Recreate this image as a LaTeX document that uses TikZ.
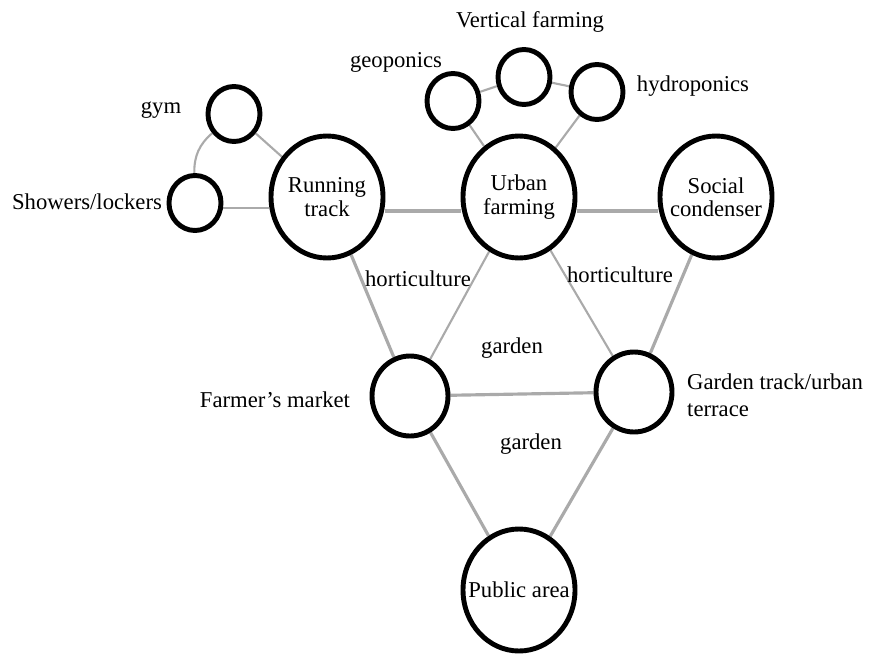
\documentclass[tikz,border=0pt]{standalone}
\usepackage{fontspec}
\setmainfont{Liberation Serif}
\usetikzlibrary{shapes.geometric,positioning,backgrounds}

\definecolor{linkgray}{RGB}{170,170,170}

\begin{document}
\begin{tikzpicture}[on grid,
  every node/.style={font=\fontsize{12.9}{13.6}\selectfont},
  big/.style={ellipse,draw,line width=2.8pt,minimum width=2.24cm,minimum height=2.44cm,inner sep=-0.3cm,align=center},
  mid/.style={ellipse,draw,line width=2.8pt,minimum width=1.52cm,minimum height=1.6cm},
  small/.style={ellipse,draw,line width=2.8pt,minimum width=1.04cm,minimum height=1.1cm},
  link/.style={draw=linkgray,line width=1.2pt},
  midlink/.style={draw=linkgray,line width=1.8pt},
  mainlink/.style={draw=linkgray,line width=2.4pt}]
\useasboundingbox (0,0) rectangle (17.5,-13.08);
\node[big] (run) at (6.54,-3.94) {Running\\track};
\node[big] (urb) [right=3.84cm of run] {Urban\\farming};
\node[big] (soc) [right=3.94cm of urb] {Social\\[-0.5pt]condenser};
\node[small] (geo) [above left=1.92cm and 1.32cm of urb] {};
\node[small] (vert) [above right=2.4cm and 0.1cm of urb] {};
\node[small] (hyd) [above right=2.1cm and 1.56cm of urb] {};
\node[small] (gym) [above left=1.66cm and 1.86cm of run] {};
\node[small] (show) [below left=0.12cm and 2.64cm of run] {};
\node[mid] (mkt) [below right=3.98cm and 1.66cm of run] {};
\node[mid] (gtr) [above right=0.08cm and 4.48cm of mkt] {};
\node[big] (pub) [below right=3.88cm and 2.18cm of mkt] {Public area};
% names of the places
\node (gymlbl) [left=1.46cm of gym,anchor=base] {gym};
\node (showlbl) [below left=0.14cm and 2.16cm of show,anchor=base] {Showers/lockers};
\node (geolbl) [above left=0.66cm and 1.14cm of geo,anchor=base] {geoponics};
\node (vertlbl) [above right=0.98cm and 0.12cm of vert,anchor=base] {Vertical farming};
\node (hydlbl) [right=1.92cm of hyd,anchor=base] {hydroponics};
\node (mktlbl) [below left=0.22cm and 2.7cm of mkt,anchor=base] {Farmer's market};
\node (gtrlbl) [below right=0.07cm and 0.94cm of gtr,anchor=west,align=left,
  font=\fontsize{12.9}{15.3}\selectfont] {Garden track/urban\\terrace};
\node (hortl) [below right=1.78cm and 1.82cm of run,anchor=base] {horticulture};
\node (hortr) [below right=1.7cm and 2.02cm of urb,anchor=base] {horticulture};
\node (gardu) [above right=0.86cm and 2.04cm of mkt,anchor=base] {garden};
\node (gardl) [below right=1.06cm and 2.42cm of mkt,anchor=base] {garden};
\begin{scope}[on background layer]
\path[link]
(gym) edge [bend right=25] (show)
(gym) edge (run)
([yshift=-1mm]show.east) edge ([yshift=-1mm]show.east -| run.west)
(geo) edge (vert)
(vert) edge (hyd)
(geo) edge (urb)
(hyd) edge (urb)
(urb) edge (mkt)
(urb) edge (gtr);
\path[midlink]
(run) edge (mkt)
(soc) edge (gtr)
(mkt) edge (gtr)
(mkt) edge (pub)
(gtr) edge (pub);
\path[mainlink]
([yshift=-2.8mm]run.east) edge ([yshift=-2.8mm]urb.west)
([yshift=-2.8mm]urb.east) edge ([yshift=-2.8mm]soc.west);
\end{scope}
\end{tikzpicture}
\end{document}
